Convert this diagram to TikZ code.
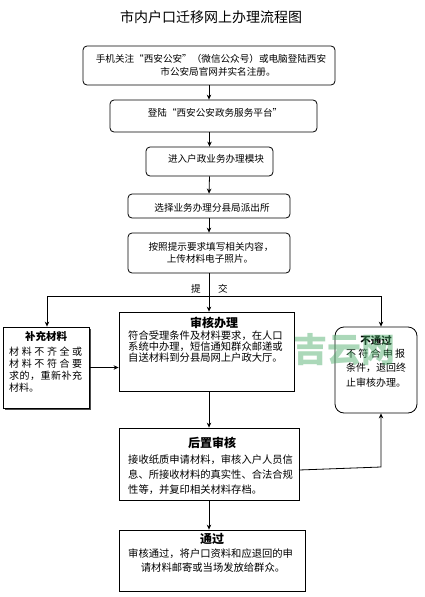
\documentclass[tikz,border=0pt]{standalone}
\usepackage{fontspec}
\setmainfont{Noto Sans CJK SC}
\newfontfamily\cjk{Noto Sans CJK SC}
\usetikzlibrary{arrows.meta}
\newcommand\hf{\hfill}
\tikzset{
  rbox/.style={draw=black, line width=0.8pt, rounded corners=4pt, minimum width=#1},
  sbox/.style={draw=black, line width=0.8pt, rectangle},
  lbl/.style={inner sep=0pt, font=\cjk\fontsize{9.6}{11}\selectfont},
  body/.style={inner sep=0pt, anchor=west, font=\cjk\fontsize{10.3}{12}\selectfont},
  ttl/.style={inner sep=0pt, font=\cjk\bfseries\fontsize{12}{14}\selectfont},
  link/.style={line width=0.8pt, draw=black},
  arr/.style={link, -{Stealth[length=5pt,width=4.5pt]}}
}
\begin{document}
\begin{tikzpicture}[x=1pt,y=-1pt]
\useasboundingbox[fill=white] (0,0) rectangle (424,597);
% title
\node[inner sep=0pt, font=\cjk\fontsize{14}{16}\selectfont] (title) at (211,17) {市内户口迁移网上办理流程图};
% boxes
\node[rbox=252pt, minimum height=39pt] (b1) at (209,65.5) {};
\node[rbox=207pt, minimum height=32pt] (b2) at (213.5,116) {};
\node[rbox=127pt, minimum height=29pt] (b3) at (209.5,161.5) {};
\node[rbox=162pt, minimum height=24pt] (b4) at (209,206) {};
\node[rbox=162pt, minimum height=40pt] (b5) at (209,253) {};
\node[sbox, minimum width=86pt, minimum height=81pt] (bc) at (46,367.5) {};
\node[sbox, minimum width=175pt, minimum height=79pt] (sh) at (206.5,351.5) {};
\node[draw=black, line width=0.8pt, rounded corners=9pt, minimum width=82pt, minimum height=86pt] (bt) at (376,370) {};
\node[sbox, minimum width=180pt, minimum height=72pt] (hz) at (209,464) {};
\node[sbox, minimum width=186pt, minimum height=61pt] (tg) at (212,560.5) {};
% shadow of bc
\draw[line width=1pt, black!70] ([xshift=1.2pt,yshift=-2pt]bc.north east) -- ([xshift=1.2pt,yshift=-1.2pt]bc.south east) -- ([xshift=2pt,yshift=-1.2pt]bc.south west);
% texts
\node[lbl] (t1a) at (211,59) {手机关注“西安公安”（微信公众号）或电脑登陆西安};
\node[lbl] (t1b) at (218,72) {市公安局官网并实名注册。};
\node[lbl] (t2) at (215,113) {登陆“西安公安政务服务平台”};
\node[lbl] (t3) at (216,159) {进入户政业务办理模块};
\node[lbl] (t4) at (212,208) {选择业务办理分县局派出所};
\node[lbl] (t5a) at (211,247) {按照提示要求填写相关内容，};
\node[lbl] (t5b) at (210,259) {上传材料电子照片。};
\node[lbl] (ti) at (196,289) {提};
\node[lbl] (tj) at (223,289) {交};
% bc
\node[ttl, font=\cjk\bfseries\fontsize{10.5}{12}\selectfont] (bct) at (46,336) {补充材料};
\node[body, font=\cjk\fontsize{10}{12}\selectfont] (bc1) at (9,352) {\makebox[73pt][s]{材\hf{}料\hf{}不\hf{}齐\hf{}全\hf{}或}};
\node[body, font=\cjk\fontsize{10}{12}\selectfont] (bc2) at (9,364) {\makebox[73pt][s]{材\hf{}料\hf{}不\hf{}符\hf{}合\hf{}要}};
\node[body, font=\cjk\fontsize{10}{12}\selectfont] (bc3) at (9,376) {\makebox[73pt][s]{求\hf{}的\hf{}，\hf{}重\hf{}新\hf{}补\hf{}充}};
\node[body, font=\cjk\fontsize{10}{12}\selectfont] (bc4) at (9,388) {材料。};
% sh
\node[ttl] (sht) at (214,323) {审核办理};
\node[body] (sh1) at (128,336) {符合受理条件及材料要求，在人口};
\node[body] (sh2) at (128,347) {系统中办理，短信通知群众邮递或};
\node[body] (sh3) at (128,358) {自送材料到分县局网上户政大厅。};
% bt
\node[ttl, font=\cjk\bfseries\fontsize{10.5}{12}\selectfont] (btt) at (376,341) {不通过};
\node[body, font=\cjk\fontsize{10}{12}\selectfont] (bt1) at (346,354) {\makebox[59pt][s]{不\hf{}符\hf{}合\hf{}申\hf{}报}};
\node[body, font=\cjk\fontsize{10}{12}\selectfont] (bt2) at (346,368) {\makebox[59pt][s]{条\hf{}件\hf{}，\hf{}退\hf{}回\hf{}终}};
\node[body, font=\cjk\fontsize{10}{12}\selectfont] (bt3) at (346,383) {止审核办理。};
% hz
\node[ttl] (hzt) at (212,443) {后置审核};
\node[body] (hz1) at (128,460) {接收纸质申请材料，审核入户人员信};
\node[body] (hz2) at (128,475) {息、所接收材料的真实性、合法合规};
\node[body] (hz3) at (128,490) {性等，并复印相关材料存档。};
% tg
\node[ttl] (tgt) at (212,539) {通过};
\node[body] (tg1) at (128,554) {审核通过，将户口资料和应退回的申};
\node[lbl, font=\cjk\fontsize{10.3}{12}\selectfont] (tg2) at (213,568) {请材料邮寄或当场发放给群众。};
% connectors
\coordinate (split) at (209,296);
\coordinate (sl) at (47,296);
\coordinate (sr) at (381,296);
\coordinate (hzout) at (299,470);
\coordinate (hzcorner) at (381,467);
\draw[arr] (b1.south) -- (b1.south |- b2.north);
\draw[arr] (b3.north |- b2.south) -- (b3.north);
\draw[arr] (b3.south) -- (b4.north);
\draw[arr] (b4.south) -- (b5.north);
\draw[link] (b5.south) -- (split);
\draw[link] (sl) -- (sr);
\draw[arr] (sl) -- (sl |- bc.north);
\draw[arr] (split) -- (split |- sh.north);
\draw[arr] (sr) -- (sr |- bt.north);
\draw[arr] (bc.east) -- (sh.west |- bc.east);
\draw[arr] (split |- sh.south) -- (split |- hz.north);
\draw[arr] (hzout) -- (hzcorner) -- (hzcorner |- bt.south);
\draw[arr] (split |- hz.south) -- (split |- tg.north);
% watermark
\node[inner sep=0pt, font=\cjk\bfseries\fontsize{34}{36}\selectfont, text={rgb,255:red,70;green,170;blue,100}, text opacity=0.45] (wm) at (344,350) {吉云网};
\end{tikzpicture}
\end{document}
